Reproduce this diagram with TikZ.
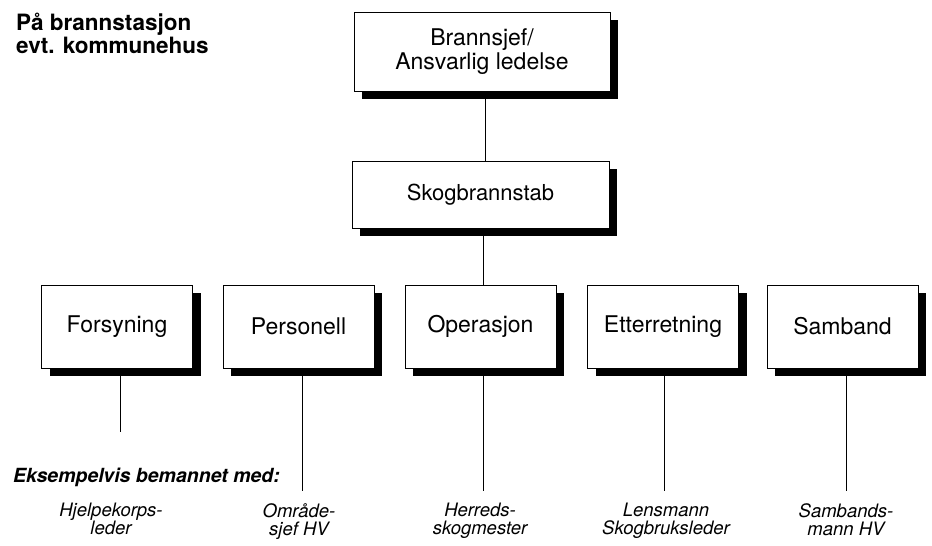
\documentclass[tikz,border=0pt]{standalone}
\usepackage{fontspec}
\setmainfont{TeX Gyre Heros}
\usetikzlibrary{shadows}
\begin{document}
\begin{tikzpicture}[x=1pt,y=-1pt,
  box/.style={draw=black, line width=1pt, fill=white, inner sep=0pt,
    align=center, font=\fontsize{23}{24}\selectfont,
    drop shadow={shadow xshift=8pt, shadow yshift=-8pt, fill=black, opacity=1}},
  unitbox/.style={box, minimum width=151pt, minimum height=83pt},
  conn/.style={draw=black, line width=0.9pt},
  role/.style={font=\fontsize{18.5}{18}\selectfont\itshape, align=center,
    anchor=north, inner sep=0pt}]
\useasboundingbox (0,0) rectangle (932,546);

% header text
\node[anchor=north west, inner sep=0pt, align=left,
  font=\fontsize{22.5}{23}\selectfont\bfseries] (place) at (16,13)
  {På brannstasjon\\evt. kommunehus};

% top boxes
\node[box, minimum width=256pt, minimum height=79pt] (chief) at (482,51.5)
  {Brannsjef/\\Ansvarlig ledelse};
\node[box, minimum width=257pt, minimum height=67pt,
  font=\fontsize{22}{24}\selectfont] (staff) at (480.5,194.5) {Skogbrannstab};

% units
\node[unitbox] (fors) at (117,326.5) {Forsyning};
\node[unitbox] (pers) at (298.5,326.5) {Personell};
\node[unitbox] (oper) at (480.5,326.5) {Operasjon};
\node[unitbox] (ette) at (663,326.5) {Etterretning};
\node[unitbox] (samb) at (842.5,326.5) {Samband};

% connectors
\draw[conn] ([xshift=3pt]chief.south) -- ([xshift=3pt]chief.south |- staff.north);
\draw[conn] ([xshift=2.5pt]staff.south) -- ([xshift=2.5pt]staff.south |- oper.north);

\coordinate (efors) at (120,432);
\coordinate (epers) at (302,491);
\coordinate (eoper) at (483,491);
\coordinate (eette) at (664,491);
\coordinate (esamb) at (846,491);
\draw[conn] (fors.south -| efors) -- (efors);
\draw[conn] (pers.south -| epers) -- (epers);
\draw[conn] (oper.south -| eoper) -- (eoper);
\draw[conn] (ette.south -| eette) -- (eette);
\draw[conn] (samb.south -| esamb) -- (esamb);

% staffing
\node[anchor=base west, inner sep=0pt,
  font=\fontsize{19.5}{20}\selectfont\bfseries\itshape] (example) at (13,482)
  {Eksempelvis bemannet med:};
\node[role] (rfors) at (111,503) {Hjelpekorps-\\leder};
\node[role] (rpers) at (299,503) {Område-\\sjef HV};
\node[role] (roper) at (480,503) {Herreds-\\skogmester};
\node[role] (rette) at (666,503) {Lensmann\\Skogbruksleder};
\node[role] (rsamb) at (846,503) {Sambands-\\mann HV};
\end{tikzpicture}
\end{document}
